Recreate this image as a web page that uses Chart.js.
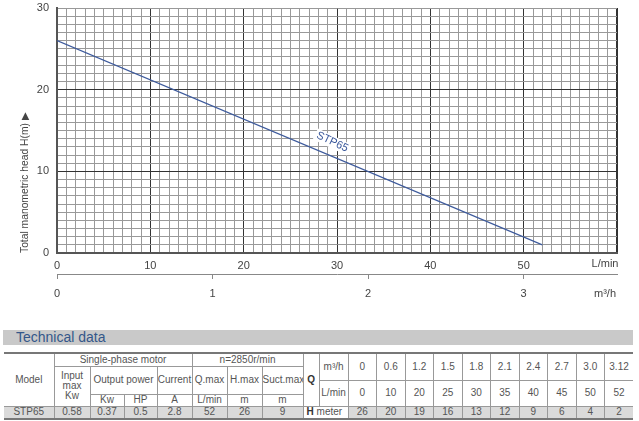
<!DOCTYPE html>
<html>
<head>
<meta charset="utf-8">
<script src="https://cdn.jsdelivr.net/npm/chart.js@4"></script>
<style>
body{margin:0;background:#fff;width:639px;height:421px;position:relative;overflow:hidden;font-family:"Liberation Sans",Arial,sans-serif;}
#chart{position:absolute;left:0;top:0;}
#bar{position:absolute;left:3px;top:330px;width:630px;height:15px;background:#c9c9c9;color:#34578a;font-size:14px;line-height:15px;padding-left:13px;box-sizing:border-box;}
#tech{position:absolute;left:4px;top:352px;width:629px;border-collapse:collapse;table-layout:fixed;font-size:10px;color:#555;text-align:center;
  border-left:hidden;border-right:hidden;border-top:2px solid #777;border-bottom:2px solid #777;}
#tech td{border:1px solid #999;padding:0;line-height:10px;overflow:hidden;white-space:nowrap;}
#tech .g{background:#dadada;}
#tech .hm{text-align:left;padding-left:3px;}
#tech b{color:#333;}
</style>
</head>
<body>
<canvas id="chart" width="639" height="310"></canvas>
<div id="bar">Technical data</div>
<table id="tech"></table>
<script>
// pump curve (L/min -> m)
const curveFlow = [0, 52]
const curveHead = [26, 1]
const curveName = 'STP65'

// axis tick labels
const flowLabels = [0, 10, 20, 30, 40, 50]
const headLabels = [0, 10, 20, 30]
const m3hLabels = [0, 1, 2, 3]

// technical data table
const motorValues = ['0.58', '0.37', '0.5', '2.8', '52', '26', '9']
const tableM3h = ['0', '0.6', '1.2', '1.5', '1.8', '2.1', '2.4', '2.7', '3.0', '3.12']
const tableLmin = ['0', '10', '20', '25', '30', '35', '40', '45', '50', '52']
const tableHead = ['26', '20', '19', '16', '13', '12', '9', '6', '4', '2']

Chart.defaults.font.family = '"Liberation Sans", Arial, sans-serif';
Chart.defaults.font.size = 11;
Chart.defaults.color = '#444';

const extraText = {
  id: 'extraText',
  afterDraw: (chart) => {
    const c = chart.ctx;
    const xs = chart.scales.x, ys = chart.scales.y, x2 = chart.scales.x2;
    c.save();
    c.font = '11px "Liberation Sans", Arial, sans-serif';
    c.fillStyle = '#444';
    c.textAlign = 'center';
    c.textBaseline = 'middle';
    c.fillText('L/min', xs.right - 12, xs.top + 11);
    c.fillText('m\u00b3/h', xs.right - 12, x2.top + 20);
    // y title
    c.save();
    c.font = '10.3px "Liberation Sans", Arial, sans-serif';
    c.translate(25, ys.bottom);
    c.rotate(-Math.PI / 2);
    c.textAlign = 'left';
    c.fillText('Total manometric head H(m) \u25b6', 0, 0);
    c.restore();
    // curve label
    const f = 29.5;
    const h = curveHead[0] + (curveHead[1] - curveHead[0]) * (f - curveFlow[0]) / (curveFlow[1] - curveFlow[0]);
    const px = xs.getPixelForValue(f), py = ys.getPixelForValue(h) - 14.5;
    const ang = Math.atan2(ys.getPixelForValue(curveHead[1]) - ys.getPixelForValue(curveHead[0]),
                           xs.getPixelForValue(curveFlow[1]) - xs.getPixelForValue(curveFlow[0]));
    c.translate(px, py);
    c.rotate(ang + 0.05);
    const w = c.measureText(curveName).width;
    c.fillStyle = '#fff';
    c.fillRect(-w / 2 - 2, -6, w + 4, 12);
    c.fillStyle = '#3d5a9c';
    c.fillText(curveName, 0, 0);
    c.restore();
  }
};

const ctx = document.getElementById('chart').getContext('2d');
const chart = new Chart(ctx, {
  type: 'scatter',
  data: {
    datasets: [{
      data: curveFlow.map((x, i) => ({x: x, y: curveHead[i]})),
      showLine: true,
      borderColor: '#3d5a9c',
      borderWidth: 1.2,
      pointRadius: 0,
      tension: 0
    }]
  },
  options: {
    responsive: false,
    animation: false,
    layout: {padding: {left: 0, top: 8, right: 22, bottom: 0}},
    plugins: {legend: {display: false}, tooltip: {enabled: false}},
    scales: {
      x: {
        type: 'linear', position: 'bottom', min: 0, max: 60, weight: 0,
        afterFit: (s) => { s.height = 21 },
        ticks: {stepSize: 1, maxTicksLimit: 100, autoSkip: false, maxRotation: 0, padding: 6,
          callback: (v) => flowLabels.includes(v) ? String(v) : ''},
        grid: {drawTicks: false,
          color: (c) => c.tick.value % 10 === 0 ? '#333' : '#999',
          lineWidth: (c) => c.tick.value === 60 ? 2 : 1},
        border: {color: '#555', width: 2}
      },
      x2: {
        type: 'linear', position: 'bottom', min: 0, max: 3.6, weight: 1,
        afterFit: (s) => { s.height = 36 },
        afterBuildTicks: (s) => { s.ticks = m3hLabels.map(v => ({value: v})) },
        ticks: {autoSkip: false, maxRotation: 0, padding: 8},
        grid: {drawOnChartArea: false, drawTicks: true, tickLength: 5, color: '#888'},
        border: {color: '#888', width: 1}
      },
      y: {
        type: 'linear', min: 0, max: 30,
        afterFit: (s) => { s.width = 57; s.paddingTop = 0; s.paddingBottom = 0 },
        ticks: {stepSize: 1, maxTicksLimit: 100, autoSkip: false, padding: 8,
          callback: (v) => headLabels.includes(v) ? String(v) : ''},
        grid: {drawTicks: false,
          color: (c) => (c.tick.value % 10 === 0 && c.tick.value < 30) ? '#333' : '#999'},
        border: {color: '#555', width: 2}
      }
    }
  },
  plugins: [extraText]
});

// table
const td = (t, a) => `<td${a ? ' ' + a : ''}>${t}</td>`;
let rows = '';
rows += '<tr style="height:13px">' + td('Model', 'rowspan="4"') + td('Single-phase motor', 'colspan="4"') +
  td('n=2850r/min', 'colspan="3"') + td('<b>Q</b>', 'rowspan="4"') + td('m\u00b3/h', 'rowspan="2"') +
  tableM3h.map(v => td(v, 'rowspan="2"')).join('') + '</tr>';
rows += '<tr style="height:14px">' + td('Input<br>max<br>Kw', 'rowspan="3"') + td('Output power', 'colspan="2" rowspan="2"') +
  td('Current', 'rowspan="2"') + td('Q.max', 'rowspan="2"') + td('H.max', 'rowspan="2"') + td('Suct.max', 'rowspan="2"') + '</tr>';
rows += '<tr style="height:14px">' + td('L/min', 'rowspan="2"') + tableLmin.map(v => td(v, 'rowspan="2"')).join('') + '</tr>';
rows += '<tr style="height:12px">' + ['Kw', 'HP', 'A', 'L/min', 'm', 'm'].map(v => td(v)).join('') + '</tr>';
rows += '<tr style="height:13px">' + td('STP65', 'class="g"') + motorValues.map(v => td(v, 'class="g"')).join('') +
  td('<b>H</b> meter', 'colspan="2" class="hm"') + tableHead.map(v => td(v, 'class="g"')).join('') + '</tr>';
const widths = [50, 36, 34, 33, 35, 35, 35, 41, 16, 29].concat(tableM3h.map(() => 28.5));
document.getElementById('tech').innerHTML = '<colgroup>' + widths.map(w => `<col style="width:${w}px">`).join('') + '</colgroup>' + rows;
</script>
</body>
</html>
